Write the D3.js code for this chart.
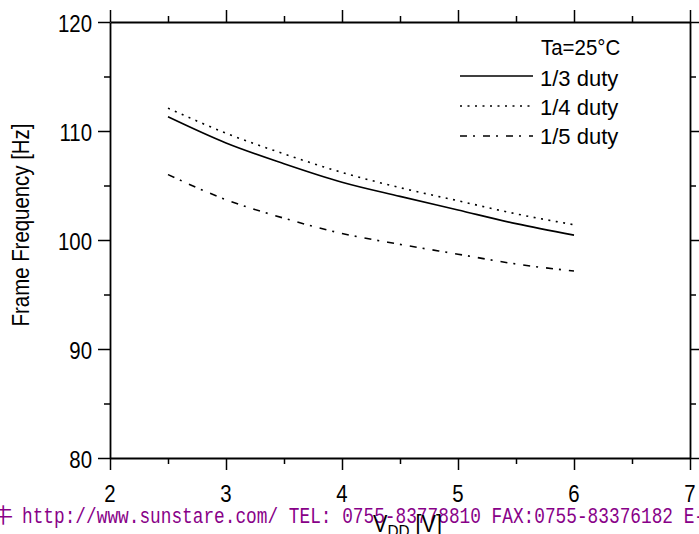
<!DOCTYPE html>
<html>
<head>
<meta charset="utf-8">
<script src="https://cdn.jsdelivr.net/npm/d3@7"></script>
<style>
  html, body { margin: 0; padding: 0; background: #fff; overflow: hidden; }
  text { font-family: "Liberation Sans", Arial, sans-serif; fill: #000; }
</style>
</head>
<body>
<div id="chart"></div>
<script>
// Supply voltage [V]
const vdd = [2.5, 3, 3.5, 4, 4.5, 5, 5.5, 6];

// Frame frequency [Hz] per duty
const duty3 = [111.3, 108.9, 107.0, 105.3, 104.0, 102.75, 101.5, 100.45];
const duty4 = [112.1, 109.8, 107.9, 106.2, 104.8, 103.6, 102.4, 101.4];
const duty5 = [106.0, 103.7, 102.0, 100.6, 99.6, 98.7, 97.8, 97.15];

const seriesNames = ["1/3 duty", "1/4 duty", "1/5 duty"];
const xTicks = [2, 3, 4, 5, 6, 7];
const yTicks = [80, 90, 100, 110, 120];

const W = 699, H = 534;
const plot = { left: 110, right: 690, top: 22, bottom: 458 };

const svg = d3.select("#chart").append("svg")
  .attr("width", W).attr("height", H);

const x = d3.scaleLinear().domain([2, 7]).range([plot.left, plot.right]);
const y = d3.scaleLinear().domain([80, 120]).range([plot.bottom, plot.top]);

// text squeezed horizontally, like the narrow face in the original
function narrowText(px, py, str, size, sx, anchor) {
  return svg.append("text")
    .attr("transform", `translate(${px},${py}) scale(${sx},1)`)
    .attr("font-size", size)
    .attr("text-anchor", anchor || "start")
    .text(str);
}

// axes (outward ticks on all four sides, minor ticks at the halves)
const minorX = d3.range(2.5, 7, 1);
const minorY = d3.range(85, 120, 10);

function drawAxis(axisFn, scale, pos, major, minor) {
  const g = svg.append("g").attr("transform", pos);
  g.call(axisFn(scale).tickValues(major).tickSize(12).tickSizeOuter(0).tickFormat(""));
  const m = svg.append("g").attr("transform", pos);
  m.call(axisFn(scale).tickValues(minor).tickSize(6).tickSizeOuter(0).tickFormat(""));
  m.select(".domain").remove();
  return g;
}

drawAxis(d3.axisBottom, x, `translate(0,${plot.bottom})`, xTicks, minorX);
drawAxis(d3.axisTop, x, `translate(0,${plot.top})`, xTicks, minorX);
drawAxis(d3.axisLeft, y, `translate(${plot.left},0)`, yTicks, minorY);
drawAxis(d3.axisRight, y, `translate(${plot.right},0)`, yTicks, minorY);
svg.selectAll(".tick line").attr("stroke", "#000").attr("stroke-width", 1.5);
svg.selectAll(".domain").attr("stroke", "#000").attr("stroke-width", 1.8);

// tick labels
xTicks.forEach(t => narrowText(x(t), plot.bottom + 44, t, 24, 0.85, "middle"));
yTicks.forEach(t => narrowText(plot.left - 18, y(t) + 10, t, 24, 0.85, "end"));

// curves
const styles = [null, "2 5.5", "7 6 2 8"];
const data = [duty3, duty4, duty5];
const line = d3.line()
  .x((d, i) => x(vdd[i]))
  .y(d => y(d))
  .curve(d3.curveMonotoneX);

data.forEach((s, k) => {
  svg.append("path")
    .datum(s)
    .attr("fill", "none")
    .attr("stroke", "#000")
    .attr("stroke-width", 1.6)
    .attr("stroke-dasharray", styles[k])
    .attr("d", line);
});

// legend
narrowText(541, 55, "Ta=25°C", 22, 0.93);
seriesNames.forEach((name, k) => {
  const ly0 = 76 + k * 30;
  svg.append("line")
    .attr("x1", 460).attr("x2", 533).attr("y1", ly0).attr("y2", ly0)
    .attr("stroke", "#000").attr("stroke-width", 1.6)
    .attr("stroke-dasharray", styles[k]);
  narrowText(540, 86 + k * 29, name, 22, 1.0);
});

// axis titles
svg.append("text")
  .attr("transform", "translate(29,225) rotate(-90) scale(0.85,1)")
  .attr("text-anchor", "middle")
  .attr("font-size", 24)
  .text("Frame Frequency [Hz]");

// watermark strip (drawn under the x title, as in the original)
svg.append("text")
  .attr("x", -7).attr("y", 523)
  .attr("font-size", 20)
  .style("fill", "#880088")
  .style("font-family", "'Noto Sans CJK SC', sans-serif")
  .text("牛");
svg.append("text")
  .attr("x", 22).attr("y", 523)
  .style("fill", "#880088")
  .style("font-family", "'Liberation Mono', 'DejaVu Sans Mono', monospace")
  .attr("font-size", 22)
  .attr("textLength", 683)
  .attr("lengthAdjust", "spacingAndGlyphs")
  .text("http://www.sunstare.com/ TEL: 0755-83778810 FAX:0755-83376182 E-");

const xt = svg.append("text")
  .attr("transform", "translate(373,532) scale(0.9,1)")
  .attr("font-size", 24);
xt.append("tspan").text("V");
xt.append("tspan").attr("font-size", 17).attr("dy", 5).text("DD");
xt.append("tspan").attr("dy", -5).text(" [V]");
</script>
</body>
</html>
